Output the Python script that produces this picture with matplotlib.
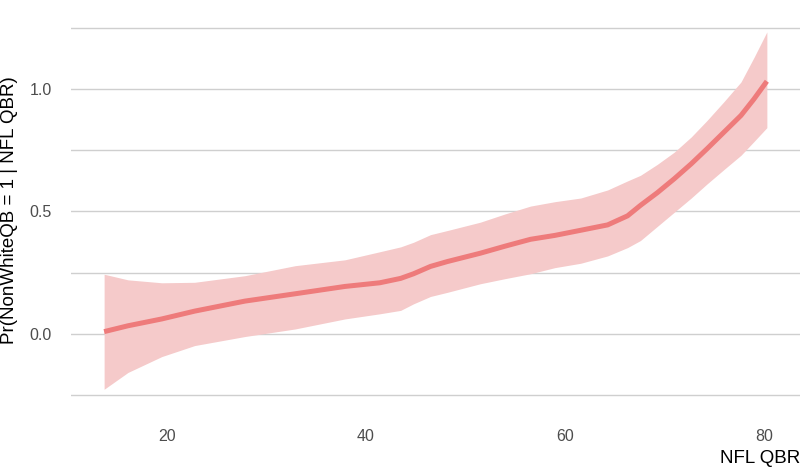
import matplotlib.pyplot as plt
from matplotlib.ticker import FixedLocator

# fitted curve and its confidence band, read along NFL QBR
qbr = [13.7, 16.1, 19.5, 22.8, 27.85, 32.9, 37.9, 41.4, 43.5, 44.8, 46.5, 48.2,
       51.5, 54.0, 56.55, 59.0, 61.6, 64.3, 66.3, 67.6, 69.3, 71.0, 72.7, 74.3,
       76.0, 77.7, 79.0, 80.3]
fit = [0.008, 0.032, 0.060, 0.092, 0.133, 0.163, 0.193, 0.208, 0.226, 0.245, 0.275, 0.295,
       0.329, 0.358, 0.386, 0.402, 0.423, 0.445, 0.482, 0.525, 0.577, 0.634, 0.695, 0.757,
       0.825, 0.893, 0.960, 1.033]
upper = [0.243, 0.220, 0.208, 0.210, 0.237, 0.278, 0.302, 0.335, 0.355, 0.374, 0.405, 0.422,
         0.456, 0.490, 0.522, 0.540, 0.555, 0.588, 0.625, 0.648, 0.693, 0.743, 0.805, 0.873,
         0.950, 1.030, 1.130, 1.235]
lower = [-0.228, -0.159, -0.094, -0.049, -0.012, 0.019, 0.060, 0.081, 0.095, 0.122, 0.152, 0.169,
         0.204, 0.225, 0.245, 0.270, 0.288, 0.318, 0.352, 0.381, 0.439, 0.497, 0.555, 0.613,
         0.672, 0.730, 0.786, 0.843]

x_ticks = [20, 40, 60, 80]
y_ticks = [0.0, 0.5, 1.0]
y_minor = [-0.25, 0.25, 0.75, 1.25]

plt.rcParams['font.family'] = ['Liberation Sans', 'DejaVu Sans']

fig = plt.figure(figsize=(8.02, 4.68), dpi=100)
ax = fig.add_axes([0.0885, 0.130, 0.909, 0.840])

ax.fill_between(qbr, lower, upper, color='#f5caca', linewidth=0)
ax.plot(qbr, fit, color='#ee7b7b', linewidth=3.6, solid_capstyle='butt',
        solid_joinstyle='round')

span_x = qbr[-1] - qbr[0]
ax.set_xlim(qbr[0] - 0.05 * span_x, qbr[-1] + 0.05 * span_x)
span_y = max(upper) - min(lower)
ax.set_ylim(min(lower) - 0.05 * span_y, max(upper) + 0.05 * span_y)

ax.set_xticks(x_ticks)
ax.set_yticks(y_ticks)
ax.set_yticklabels(['0.0', '0.5', '1.0'])
ax.yaxis.set_minor_locator(FixedLocator(y_minor))

ax.grid(axis='y', which='both', color='#cfcfcf', linewidth=1.0)
ax.grid(axis='x', visible=False)
ax.set_axisbelow(True)
for s in ax.spines.values():
    s.set_visible(False)
ax.tick_params(which='both', length=0, labelsize=11.5, labelcolor='#4d4d4d')
ax.tick_params(axis='x', pad=16)
ax.tick_params(axis='y', pad=14)

ax.set_xlabel('NFL QBR', fontsize=13.5, loc='right', labelpad=4)
ax.set_ylabel('Pr(NonWhiteQB = 1 | NFL QBR)', fontsize=13.5, labelpad=8)

plt.savefig('out.png', dpi=100)
